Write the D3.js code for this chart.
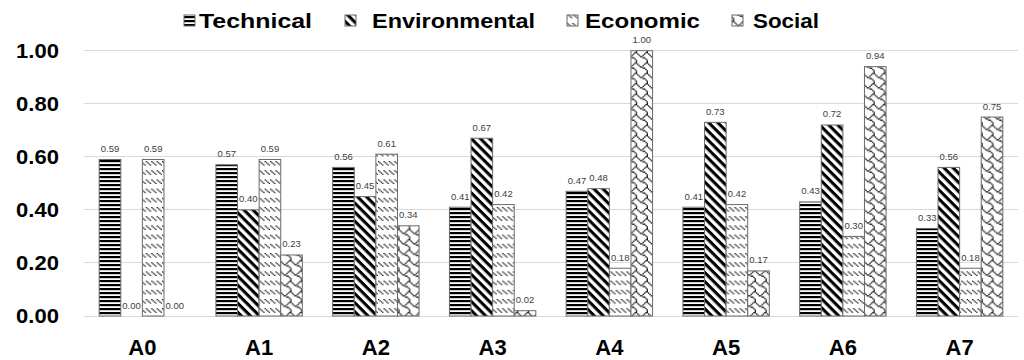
<!DOCTYPE html>
<html><head><meta charset="utf-8">
<script src="https://cdn.jsdelivr.net/npm/d3@7"></script>
<style>body{margin:0;background:#fff}svg{display:block}</style>
</head><body>
<svg id="c" width="1024" height="360"></svg>
<script>
const categories = ["A0","A1","A2","A3","A4","A5","A6","A7"];
const seriesNames = ["Technical","Environmental","Economic","Social"];
const technical     = [0.59,0.57,0.56,0.41,0.47,0.41,0.43,0.33];
const environmental = [0.00,0.40,0.45,0.67,0.48,0.73,0.72,0.56];
const economic      = [0.59,0.59,0.61,0.42,0.18,0.42,0.30,0.18];
const social        = [0.00,0.23,0.34,0.02,1.00,0.17,0.94,0.75];
const yTicks = [0,0.2,0.4,0.6,0.8,1.0];

const seriesValues = [technical, environmental, economic, social];
const svg = d3.select("#c");
const defs = svg.append("defs");

function bitmapPattern(id, rows, sx, sy, color){
  const p = defs.append("pattern").attr("id",id).attr("patternUnits","userSpaceOnUse")
    .attr("width",8*sx).attr("height",8*sy);
  p.append("rect").attr("width",8*sx).attr("height",8*sy).attr("fill","#fff");
  const cells = [];
  rows.forEach((r,yy)=>{ for(let xx=0;xx<8;xx++){ if(r & (1<<xx)) cells.push([xx,yy]); } });
  p.selectAll("rect.b").data(cells).join("rect").attr("class","b")
    .attr("x",d=>d[0]*sx).attr("y",d=>d[1]*sy).attr("width",sx+0.05).attr("height",sy+0.05).attr("fill",color);
}

// Technical: dark horizontal
const pT = defs.append("pattern").attr("id","pTech").attr("patternUnits","userSpaceOnUse").attr("width",8).attr("height",4);
pT.append("rect").attr("width",8).attr("height",4).attr("fill","#fff");
pT.append("rect").attr("y",0).attr("width",8).attr("height",2.2).attr("fill","#000");

// Environmental: wide downward diagonal
const pE = defs.append("pattern").attr("id","pEnv").attr("patternUnits","userSpaceOnUse").attr("width",8).attr("height",6.4).attr("patternTransform","rotate(45)");
pE.append("rect").attr("width",8).attr("height",6.4).attr("fill","#fff");
pE.append("rect").attr("y",0).attr("width",8).attr("height",3.1).attr("fill","#000");

// Economic: dashed downward diagonal (LSB = left pixel)
bitmapPattern("pEco",[0x00,0x00,0x00,0x00,0x11,0x22,0x44,0x88],1.35,1.15,"#1a1a1a");
// Social: shingle
bitmapPattern("pSoc",[0xC0,0x21,0x12,0x0C,0x30,0x40,0x80,0x80],1.35,1.3,"#111");

const fills = ["url(#pTech)","url(#pEnv)","url(#pEco)","url(#pSoc)"];

const x = d3.scaleBand().domain(categories).range([84,1018]).paddingInner(0.26).paddingOuter(0.13);
const xs = d3.scaleBand().domain(seriesNames).range([0,x.bandwidth()]).padding(0);
const y = d3.scaleLinear().domain([0,1]).range([316,50.7]);

// gridlines
svg.append("g").selectAll("line").data(yTicks).join("line")
  .attr("x1",84).attr("x2",1018).attr("y1",d=>y(d)).attr("y2",d=>y(d))
  .attr("stroke","#d9d9d9").attr("stroke-width",1).attr("shape-rendering","crispEdges");

// y axis labels
svg.append("g").selectAll("text").data(yTicks).join("text")
  .attr("transform",d=>`translate(59,${y(d)+7}) scale(1.13,1)`)
  .attr("text-anchor","end")
  .attr("font-family","Liberation Sans, Arial, sans-serif").attr("font-weight","bold").attr("font-size",19.5)
  .attr("fill","#000").text(d=>d3.format(".2f")(d));

// bars
const data = [];
categories.forEach((c,i)=>seriesNames.forEach((s,j)=>data.push({c,s,j,v:seriesValues[j][i]})));
svg.append("g").selectAll("rect").data(data).join("rect")
  .attr("x",d=>x(d.c)+xs(d.s)).attr("width",xs.bandwidth())
  .attr("y",d=>y(d.v)).attr("height",d=>y(0)-y(d.v))
  .attr("fill",d=>fills[d.j]).attr("stroke","#6b6b6b").attr("stroke-width",1);

// value labels
svg.append("g").selectAll("text").data(data).join("text")
  .attr("x",d=>x(d.c)+xs(d.s)+xs.bandwidth()/2).attr("y",d=>y(d.v)-7.5)
  .attr("text-anchor","middle")
  .attr("font-family","Liberation Sans, Arial, sans-serif").attr("font-size",9.5)
  .attr("fill","#404040").text(d=>d3.format(".2f")(d.v));

// x labels
svg.append("g").selectAll("text").data(categories).join("text")
  .attr("x",d=>x(d)+x.bandwidth()/2).attr("y",355)
  .attr("text-anchor","middle")
  .attr("font-family","Liberation Sans, Arial, sans-serif").attr("font-weight","bold").attr("font-size",22)
  .attr("fill","#000").text(d=>d);

// legend
const legX = [184,345,567,732];
const legT = [199,372,585,753];
const legW = [113,163,115,66];
const lg = svg.append("g").selectAll("g").data(seriesNames).join("g");
lg.append("rect").attr("x",(d,i)=>legX[i]).attr("y",15).attr("width",11).attr("height",11)
  .attr("fill",(d,i)=>fills[i]).attr("stroke","#6b6b6b").attr("stroke-width",1);
lg.append("text").attr("x",(d,i)=>legT[i]).attr("y",28)
  .attr("textLength",(d,i)=>legW[i]).attr("lengthAdjust","spacingAndGlyphs")
  .attr("font-family","Liberation Sans, Arial, sans-serif").attr("font-weight","bold").attr("font-size",21)
  .attr("fill","#000").text(d=>d);
</script>
</body></html>
